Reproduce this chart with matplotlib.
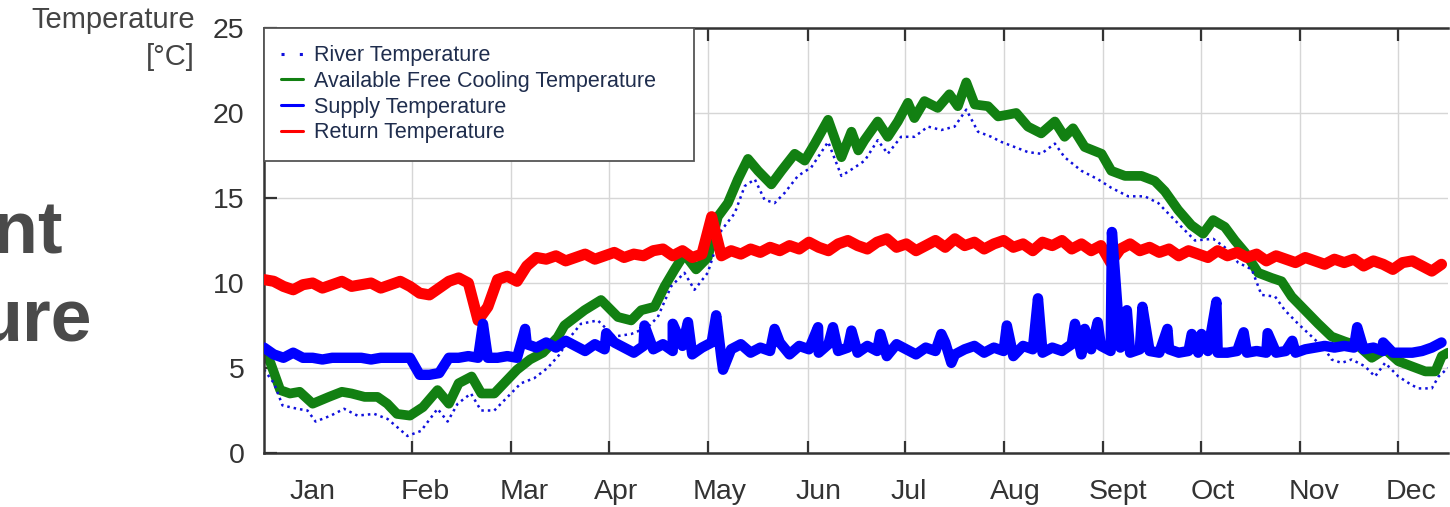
import numpy as np
import matplotlib
matplotlib.use('Agg')
import matplotlib.pyplot as plt

plt.rcParams['font.family'] = ['Liberation Sans', 'DejaVu Sans']

months = ['Jan', 'Feb', 'Mar', 'Apr', 'May', 'Jun', 'Jul', 'Aug', 'Sept', 'Oct', 'Nov', 'Dec']
tick_days = [15.1, 45.6, 76.1, 106.4, 137, 167.6, 197.5, 228.1, 258.5, 288.8, 319.4, 349.7]
label_days = [15.1, 49.7, 80.2, 108.6, 140.4, 170.9, 198.7, 231.7, 263.2, 292.5, 323.7, 353.6]

# river temperature (dotted)
river_days = [0, 3.1, 5.7, 10.3, 13.4, 15.9, 20.6, 24.7, 28.8, 34.0, 38.1, 41.2, 44.2, 48.4, 53.5,
              56.6, 59.7, 63.8, 66.9, 71.0, 75.1, 79.2, 83.3, 87.4, 91.6,
              92.6, 97.7, 102.9, 108.0, 113.2, 118.3, 121.4, 125.5, 129.6, 132.7, 136.8, 141.0,
              145.1, 148.2, 151.3, 154.3, 157.4, 160.5, 164.6, 168.7, 173.9, 178.0, 182.1, 185.2,
              189.2, 192.3, 196.4, 200.5, 204.7, 208.8, 212.9, 216.5, 220.1, 224.2, 227.3, 231.4,
              235.5, 239.6, 243.8, 246.8, 252.0, 257.1, 261.2, 266.4, 271.5, 275.7, 277.7,
              281.8, 287.0, 292.6, 296.2, 300.3, 304.5, 307.5, 311.7, 314.7, 318.8, 323.0, 327.1,
              329.1, 332.2, 335.3, 339.4, 342.5, 345.6, 349.7, 353.8, 355.9, 360.0, 362.1, 365]
river_vals = [4.9, 4.1, 2.8, 2.6, 2.5, 1.85, 2.2, 2.6, 2.2, 2.3, 2.0, 1.5, 1.0, 1.3, 2.6,
              1.85, 2.9, 3.5, 2.5, 2.5, 3.3, 4.1, 4.4, 5.0, 5.9,
              6.4, 7.6, 7.8, 6.85, 7.0, 7.4, 8.0, 9.8, 10.6, 9.6, 10.6, 13.1,
              14.1, 15.7, 16.1, 14.9, 14.7, 15.3, 16.3, 16.8, 18.3, 16.3, 16.8, 17.2,
              18.4, 17.6, 18.6, 18.6, 19.2, 19.0, 19.2, 20.2, 18.9, 18.6, 18.3, 18.0,
              17.7, 17.6, 18.2, 17.4, 16.6, 16.1, 15.6, 15.1, 15.1, 14.7, 14.3,
              13.5, 12.5, 12.6, 12.1, 11.2, 10.8, 9.3, 9.2, 8.4, 7.6, 6.85, 6.1,
              5.5, 5.3, 5.5, 5.1, 4.5, 5.3, 4.5, 4.0, 3.8, 3.8, 4.5, 5.0]

# available free cooling temperature
green_days = [0, 2, 5, 8, 11, 15, 20, 24, 27, 31, 35, 38, 41, 45, 49, 53.5, 57, 60, 64, 67, 71,
              74, 78, 82, 86, 90.5,
              92.6, 98.8, 103.9, 109.1, 113.2, 116.3, 120.4, 123.5, 126.6, 129.6, 133.2, 136.8,
              139.9, 143.0, 146.1, 149.2, 152.3, 156.4, 159.5, 163.6, 166.7, 169.8, 173.9, 178.0,
              181.1, 183.2,
              185.1, 189.2, 192.3, 195.4, 198.5, 200.5, 203.6, 207.7, 211.3, 213.9, 216.5, 219.1,
              223.2, 226.3, 229.3, 231.9, 235.5, 239.6, 243.8, 246.8, 249.4, 253.0, 258.2, 261.2,
              265.4, 270.5, 274.6,
              277.7, 281.8, 285.9, 289.5, 292.6, 296.2, 299.3, 302.4, 306.5, 310.6, 313.7, 316.8,
              320.9, 325.0, 329.1, 333.3, 337.4, 341.5, 345.6, 349.7, 353.8, 358.0, 361.1, 363.1, 365]
green_vals = [6.0, 5.3, 3.7, 3.5, 3.6, 2.9, 3.3, 3.6, 3.5, 3.3, 3.3, 2.9, 2.3, 2.2, 2.7, 3.7, 2.9,
              4.1, 4.5, 3.5, 3.5, 4.1, 4.9, 5.5, 5.9, 6.8,
              7.5, 8.4, 9.0, 8.0, 7.8, 8.4, 8.6, 9.8, 10.8, 11.7, 10.8, 11.5, 13.9, 14.7, 16.1,
              17.3, 16.6, 15.8, 16.6, 17.6, 17.2, 18.2, 19.6, 17.4, 18.9, 17.8,
              18.4, 19.5, 18.6, 19.5, 20.6, 19.7, 20.7, 20.3, 21.1, 20.4, 21.8, 20.5, 20.4, 19.8,
              19.9, 20.0, 19.2, 18.8, 19.5, 18.6, 19.1, 18.0, 17.6, 16.6, 16.3, 16.3, 16.0,
              15.4, 14.3, 13.4, 12.9, 13.7, 13.3, 12.5, 11.8, 10.6, 10.3, 10.1, 9.2, 8.4, 7.6,
              6.85, 6.55, 6.3, 5.6, 6.1, 5.4, 5.1, 4.8, 4.8, 5.7, 5.9]

# supply temperature, every 3 days, plus short spikes
supply_vals = [6.2, 5.8, 5.6, 5.9, 5.6, 5.6, 5.5, 5.6, 5.6, 5.6, 5.6, 5.5, 5.6, 5.6, 5.6,
               5.6, 4.6, 4.6, 4.7, 5.6, 5.6, 5.7, 5.6, 5.6, 5.6, 5.7, 5.6, 6.4, 6.2, 6.5, 6.2, 6.6,
               6.3, 6.0, 6.4, 6.1, 6.5, 6.2, 5.9, 6.3, 6.1,
               6.4, 6.0, 6.3, 5.8, 6.2, 6.5, 5.6, 6.1, 6.4, 5.9, 6.2, 6.0, 6.5, 5.8, 6.3, 6.1, 5.9,
               6.4, 6.0, 6.2,
               5.9, 6.3, 6.0, 5.7, 6.4, 6.1, 5.8, 6.2, 6.0, 6.5, 5.8, 6.1, 6.3, 5.9, 6.2, 6.0, 5.7,
               6.3, 6.1, 5.9,
               6.2, 6.0, 6.4, 5.8, 6.1, 6.3, 6.0, 6.2, 5.9, 6.1, 6.0, 5.9, 6.1, 5.9, 6.0, 5.9, 6.0,
               5.9, 5.9, 6.0,
               5.9, 6.0, 5.9, 5.9, 6.0, 5.9, 6.1, 6.2, 6.3, 6.2, 6.3, 6.2, 6.1, 6.2, 6.0, 5.9, 5.9,
               5.9, 6.0, 6.2, 6.5]
spike_days = [67.5, 80.5, 105.5, 117.3, 126.0, 130.7, 139.4, 141.5, 157.4, 170.8, 175.4, 181.1,
              190.0, 208.8, 211.9, 229.0, 238.6, 250.0, 253.0, 257.0, 261.4, 266.0, 270.8,
              278.5, 286.0, 289.0, 293.6, 302.0, 309.4, 317.0, 337.0, 345.0]
spike_vals = [7.6, 7.3, 7.05, 7.5, 7.6, 7.7, 8.1, 4.9, 7.3, 7.4, 7.4, 7.2,
              7.0, 7.0, 5.3, 7.5, 9.1, 7.6, 7.3, 7.7, 13.0, 8.4, 8.6,
              7.3, 7.0, 7.0, 8.9, 7.1, 7.05, 6.6, 7.4, 6.5]

# return temperature, every 3 days
return_vals = [10.2, 10.1, 9.8, 9.6, 9.9, 10.0, 9.7, 9.9, 10.1, 9.8, 9.9, 10.0, 9.7, 9.9, 10.1, 9.8,
               9.4, 9.3, 9.7, 10.1, 10.3, 10.0, 7.8, 8.6, 10.2, 10.4, 10.1,
               11.0, 11.5, 11.4, 11.6, 11.3,
               11.5, 11.7, 11.4, 11.6, 11.8, 11.5, 11.7, 11.6, 11.9,
               12.0, 11.6, 11.9, 11.5, 11.7, 13.9,
               11.6, 11.9, 11.7, 12.0, 11.8, 12.1, 11.9, 12.2, 12.0, 12.4, 12.1, 11.9, 12.3, 12.5,
               12.2, 12.0, 12.4, 12.6, 12.1, 12.3, 11.9, 12.2, 12.5, 12.1, 12.6, 12.2, 12.4, 12.0,
               12.3, 12.5, 12.1, 12.3, 11.9, 12.4,
               12.2, 12.5, 12.0, 12.3, 11.9, 12.2, 11.2, 12.0, 12.3, 11.9,
               12.1, 11.8, 12.0, 11.6, 11.9, 11.7, 11.5, 11.9, 11.6, 11.8,
               11.5, 11.7, 11.3, 11.6, 11.4, 11.2, 11.5, 11.3, 11.1, 11.4,
               11.2, 11.4, 11.0, 11.3, 11.1, 10.8, 11.2, 11.3, 11.0, 10.7, 11.1]

return_days = 3 * np.arange(len(return_vals))
s_days = np.concatenate([3 * np.arange(len(supply_vals)), spike_days])
s_vals = np.concatenate([supply_vals, spike_vals])
order = np.argsort(s_days, kind='stable')
s_days, s_vals = s_days[order], s_vals[order]

fig = plt.figure(figsize=(14.5, 5.07), dpi=100)
ax = fig.add_axes([264 / 1450, 54 / 507, (1448 - 264) / 1450, (453 - 28) / 507])

l_green, = ax.plot(green_days, green_vals, color='#128012', lw=7, solid_joinstyle='round',
                   solid_capstyle='round', zorder=2)
l_river, = ax.plot(river_days, river_vals, color='#1010dd', lw=1.8, ls=(0, (1, 1.6)), zorder=2.5)
l_red, = ax.plot(return_days, return_vals, color='#ff0000', lw=8, solid_joinstyle='round',
                 solid_capstyle='round', zorder=3)
l_blue, = ax.plot(s_days, s_vals, color='#0000ff', lw=7.5, solid_joinstyle='round',
                  solid_capstyle='round', zorder=4)

ax.set_xlim(0, 365)
ax.set_ylim(0, 25)
ax.set_yticks(np.arange(0, 26, 5))
ax.set_xticks(tick_days, minor=True)
ax.set_xticks(label_days, months)
ax.grid(which='minor', axis='x', color='#d6d6d6', lw=1)
ax.grid(which='major', axis='y', color='#d6d6d6', lw=1)
ax.set_axisbelow(True)

ax.tick_params(axis='x', which='major', length=0, pad=19, labelsize=20.5, labelcolor='#333333')
ax.tick_params(axis='x', which='minor', direction='in', length=9, width=1.6, color='#333333',
               top=True, bottom=True)
ax.tick_params(axis='y', direction='in', length=9, width=1.6, color='#333333', pad=14,
               labelsize=20.5, labelcolor='#333333', left=True, right=False)
for side in ['left', 'bottom', 'top']:
    ax.spines[side].set_linewidth(1.8)
    ax.spines[side].set_color('#333333')
ax.spines['right'].set_visible(False)

leg = ax.legend([l_river, l_green, l_blue, l_red],
                ['River Temperature', 'Available Free Cooling Temperature',
                 'Supply Temperature', 'Return Temperature'],
                loc='upper left', bbox_to_anchor=(0, 0, 430 / 1184, 1), mode='expand',
                borderaxespad=0, fontsize=15.5, labelcolor='#1f2d4d', fancybox=False,
                framealpha=1, edgecolor='#555555', borderpad=0.8, labelspacing=0.22,
                handlelength=1.0, handletextpad=0.5)
leg.get_frame().set_linewidth(1.3)
for i, line in enumerate(leg.get_lines()):
    line.set_linewidth(2.2)
    if i == 0:
        line.set_linestyle((0, (1, 5)))
leg.set_zorder(10)

fig.text(195 / 1450, 1 - 20 / 507, 'Temperature', ha='right', va='center', fontsize=21,
         color='#444444')
fig.text(195 / 1450, 1 - 57 / 507, '[°C]', ha='right', va='center', fontsize=21, color='#444444')

# slide title words that run off the left edge
fig.text(63 / 1450, 1 - 253 / 507, 'ent', ha='right', va='baseline', fontsize=53,
         fontweight='bold', color='#4a4a4a')
fig.text(92 / 1450, 1 - 342 / 507, 'ure', ha='right', va='baseline', fontsize=53,
         fontweight='bold', color='#4a4a4a')

fig.savefig('out.png', dpi=100)
